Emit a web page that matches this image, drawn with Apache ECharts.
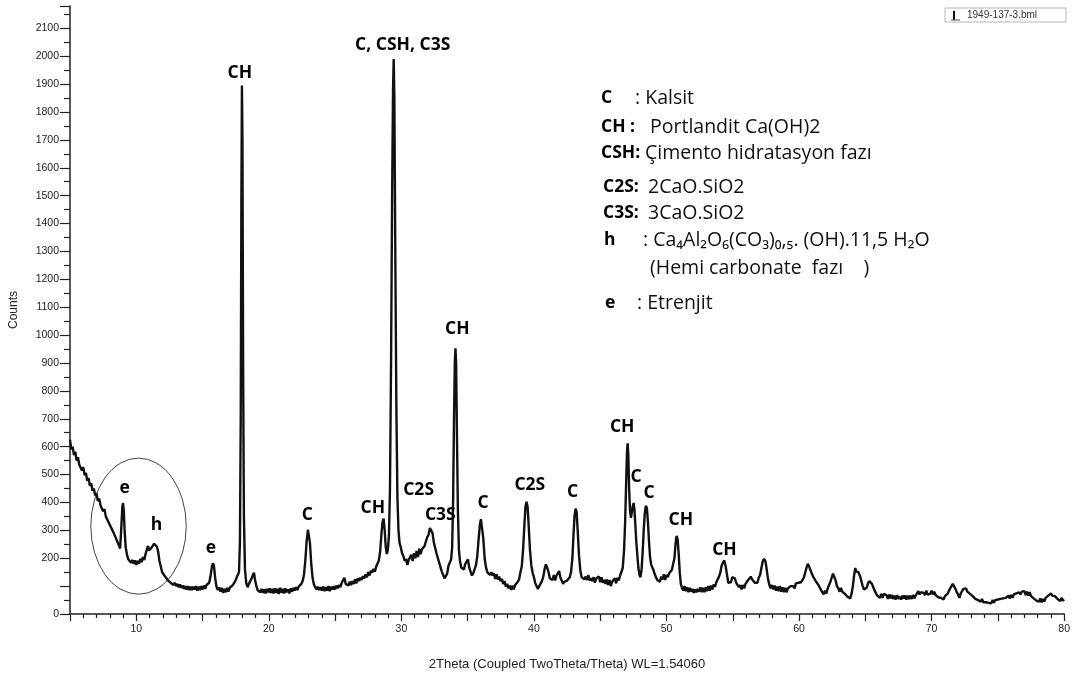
<!DOCTYPE html>
<html>
<head>
<meta charset="utf-8">
<script src="https://cdn.jsdelivr.net/npm/echarts@6/dist/echarts.min.js"></script>
<style>
html,body{margin:0;padding:0;background:#fff;}
#chart{width:1073px;height:680px;}
</style>
</head>
<body>
<div id="chart"></div>
<script>
// X-ray diffraction scan: [2Theta (deg), counts]
const scan = [
[5.0,625],[5.1,590],[5.2,600],[5.3,570],[5.4,582],[5.5,550],[5.6,562],[5.7,535],[5.8,542],[5.9,515],
[6.0,526],[6.1,498],[6.2,506],[6.3,478],[6.4,487],[6.5,460],[6.6,468],[6.7,442],[6.8,450],[6.9,425],
[7.0,433],[7.1,405],[7.2,414],[7.3,390],[7.4,396],[7.5,368],[7.6,376],[7.7,350],[7.8,357],[7.9,330],
[8.0,337],[8.1,310],[8.2,317],[8.3,290],[8.4,294],[8.5,268],[8.6,262],[8.7,245],[8.78,235],[8.86,300],
[8.95,385],[9.0,398],[9.06,370],[9.12,300],[9.2,240],[9.3,212],[9.4,196],[9.5,200],[9.6,184],[9.7,194],
[9.8,180],[9.9,192],[10.0,176],[10.1,190],[10.2,180],[10.3,198],[10.4,186],[10.5,204],[10.6,194],[10.7,215],
[10.8,222],[10.88,244],[10.96,228],[11.05,224],[11.15,238],[11.25,236],[11.35,252],[11.45,256],[11.55,242],[11.65,224],
[11.75,190],[11.85,170],[11.95,150],[12.05,152],[12.15,136],[12.3,134],[12.4,120],[12.5,126],[12.6,112],[12.7,118],
[12.8,104],[12.9,112],[13.0,100],[13.1,108],[13.2,96],[13.3,106],[13.4,94],[13.5,102],[13.6,90],[13.7,100],
[13.8,88],[13.9,100],[14.0,86],[14.1,98],[14.2,86],[14.3,98],[14.4,88],[14.5,100],[14.6,84],[14.7,98],
[14.8,86],[14.9,100],[15.0,88],[15.1,102],[15.2,90],[15.3,104],[15.4,98],[15.5,112],[15.6,135],[15.7,168],
[15.78,182],[15.86,172],[15.95,130],[16.05,98],[16.15,86],[16.25,96],[16.35,80],[16.45,94],[16.55,76],[16.65,90],
[16.75,78],[16.85,94],[16.95,80],[17.05,94],[17.15,88],[17.25,102],[17.35,100],[17.45,116],[17.55,122],[17.65,140],
[17.75,150],[17.82,260],[17.88,700],[17.93,1500],[17.97,1895],[18.01,1700],[18.06,900],[18.12,350],[18.2,160],[18.3,110],
[18.4,96],[18.5,108],[18.6,110],[18.7,128],[18.8,140],[18.88,148],[18.96,122],[19.05,102],[19.15,86],[19.25,90],
[19.35,78],[19.45,90],[19.55,76],[19.65,88],[19.75,74],[19.85,90],[19.95,78],[20.05,92],[20.15,76],[20.25,90],
[20.35,74],[20.45,92],[20.55,76],[20.65,90],[20.75,72],[20.85,94],[20.95,76],[21.05,90],[21.15,74],[21.25,92],
[21.35,78],[21.45,88],[21.55,74],[21.65,92],[21.75,80],[21.85,94],[21.95,84],[22.05,96],[22.15,86],[22.25,98],
[22.35,96],[22.45,108],[22.55,118],[22.65,140],[22.75,190],[22.85,260],[22.95,302],[23.02,298],[23.1,255],[23.2,180],
[23.3,130],[23.4,106],[23.5,100],[23.6,88],[23.7,98],[23.8,86],[23.9,96],[24.0,84],[24.1,98],[24.2,82],
[24.3,96],[24.4,84],[24.5,100],[24.6,82],[24.7,98],[24.8,88],[24.9,100],[25.0,88],[25.1,102],[25.2,92],
[25.3,104],[25.4,96],[25.5,112],[25.6,118],[25.7,130],[25.8,108],[25.9,112],[26.0,102],[26.1,116],[26.2,104],
[26.3,118],[26.4,108],[26.5,124],[26.6,110],[26.7,128],[26.8,118],[26.9,130],[27.0,122],[27.1,136],[27.2,128],
[27.3,142],[27.4,132],[27.5,150],[27.6,138],[27.7,156],[27.8,148],[27.9,162],[28.0,152],[28.1,170],[28.2,168],
[28.3,192],[28.4,225],[28.5,290],[28.58,330],[28.66,342],[28.74,300],[28.82,240],[28.9,215],[28.98,230],[29.06,280],
[29.14,450],[29.22,900],[29.3,1500],[29.37,1880],[29.42,1990],[29.47,1850],[29.54,1300],[29.62,750],[29.7,420],[29.78,300],
[29.86,255],[29.95,240],[30.05,218],[30.15,208],[30.25,190],[30.35,198],[30.45,176],[30.55,194],[30.65,196],[30.75,212],
[30.85,190],[30.95,218],[31.05,200],[31.15,226],[31.25,204],[31.35,234],[31.45,214],[31.55,232],[31.65,236],[31.75,244],
[31.85,250],[31.95,276],[32.05,284],[32.15,308],[32.25,302],[32.35,290],[32.45,256],[32.55,250],[32.65,218],[32.75,214],
[32.85,184],[32.95,180],[33.05,152],[33.15,156],[33.25,128],[33.35,136],[33.45,144],[33.55,172],[33.65,176],[33.75,196],
[33.83,240],[33.9,400],[33.97,700],[34.03,900],[34.08,953],[34.13,900],[34.19,650],[34.26,380],[34.34,230],[34.42,190],
[34.52,166],[34.62,160],[34.72,160],[34.82,180],[34.92,182],[35.02,196],[35.12,166],[35.22,162],[35.32,138],[35.42,146],
[35.52,148],[35.62,174],[35.72,205],[35.82,265],[35.92,320],[36.0,340],[36.08,335],[36.18,270],[36.28,200],[36.38,168],
[36.48,150],[36.58,156],[36.68,140],[36.78,150],[36.88,138],[36.98,146],[37.08,126],[37.18,142],[37.28,124],[37.38,134],
[37.48,118],[37.58,126],[37.68,108],[37.78,118],[37.88,98],[37.98,108],[38.08,92],[38.18,102],[38.28,86],[38.38,102],
[38.48,88],[38.58,104],[38.68,98],[38.78,116],[38.88,124],[38.98,150],[39.08,170],[39.18,230],[39.28,320],[39.36,385],
[39.44,402],[39.52,385],[39.6,320],[39.7,230],[39.8,175],[39.9,148],[40.0,132],[40.1,110],[40.2,108],[40.3,90],
[40.4,100],[40.5,98],[40.6,118],[40.7,132],[40.8,160],[40.9,178],[41.0,166],[41.1,150],[41.2,128],[41.3,126],
[41.4,122],[41.5,140],[41.6,120],[41.7,138],[41.8,136],[41.9,154],[42.0,130],[42.1,126],[42.2,108],[42.3,116],
[42.4,110],[42.5,120],[42.6,114],[42.7,132],[42.8,150],[42.9,200],[42.98,280],[43.06,350],[43.14,378],[43.22,365],
[43.3,300],[43.4,210],[43.5,155],[43.6,132],[43.7,132],[43.8,124],[43.9,134],[44.0,122],[44.1,140],[44.2,120],
[44.3,128],[44.4,118],[44.5,132],[44.6,112],[44.7,128],[44.8,122],[44.9,134],[45.0,114],[45.1,132],[45.2,112],
[45.3,122],[45.4,108],[45.5,124],[45.6,104],[45.7,122],[45.8,100],[45.9,116],[46.0,112],[46.1,128],[46.2,110],
[46.3,130],[46.4,120],[46.5,138],[46.6,136],[46.7,165],[46.8,230],[46.88,330],[46.95,460],[47.02,580],[47.07,612],
[47.12,570],[47.18,450],[47.25,370],[47.32,345],[47.38,352],[47.45,385],[47.52,398],[47.58,375],[47.65,320],[47.72,260],
[47.8,210],[47.88,165],[47.96,140],[48.04,132],[48.12,160],[48.2,220],[48.28,300],[48.36,360],[48.44,388],[48.52,380],
[48.6,330],[48.68,260],[48.76,205],[48.84,178],[48.92,168],[49.0,160],[49.1,144],[49.2,142],[49.3,122],[49.4,126],
[49.5,116],[49.6,134],[49.7,124],[49.8,142],[49.9,122],[50.0,140],[50.1,132],[50.2,146],[50.3,140],[50.4,158],
[50.5,156],[50.6,200],[50.68,250],[50.76,280],[50.84,268],[50.92,215],[51.0,150],[51.08,108],[51.16,95],[51.26,84],
[51.36,100],[51.46,82],[51.56,96],[51.66,78],[51.76,94],[51.86,80],[51.96,90],[52.06,76],[52.16,88],[52.26,78],
[52.36,90],[52.46,80],[52.56,96],[52.66,78],[52.76,94],[52.86,78],[52.96,96],[53.06,82],[53.16,100],[53.26,84],
[53.36,102],[53.46,88],[53.56,106],[53.66,98],[53.76,114],[53.86,114],[53.96,134],[54.06,148],[54.16,174],[54.26,184],
[54.36,192],[54.46,172],[54.56,142],[54.66,112],[54.76,112],[54.86,114],[54.96,132],[55.06,126],[55.16,128],[55.26,112],
[55.36,114],[55.46,96],[55.56,104],[55.66,88],[55.76,104],[55.86,92],[55.96,108],[56.06,106],[56.16,122],[56.26,118],
[56.36,134],[56.46,124],[56.56,126],[56.66,112],[56.76,118],[56.86,112],[56.96,130],[57.06,140],[57.16,165],[57.26,188],
[57.36,198],[57.46,190],[57.56,160],[57.66,125],[57.76,105],[57.86,92],[57.96,104],[58.06,88],[58.16,102],[58.26,84],
[58.36,98],[58.46,82],[58.56,100],[58.66,80],[58.76,96],[58.86,78],[58.96,94],[59.06,78],[59.16,92],[59.26,86],
[59.36,100],[59.46,94],[59.56,100],[59.66,92],[59.76,110],[59.86,104],[59.96,112],[60.06,106],[60.16,114],[60.26,116],
[60.36,130],[60.46,148],[60.56,165],[60.66,180],[60.76,170],[60.86,158],[60.96,145],[61.06,134],[61.16,134],[61.26,118],
[61.36,122],[61.46,104],[61.56,104],[61.66,86],[61.76,86],[61.86,70],[61.96,84],[62.06,74],[62.16,92],[62.26,96],
[62.36,115],[62.46,130],[62.56,145],[62.66,138],[62.76,120],[62.86,100],[62.96,92],[63.06,80],[63.16,94],[63.26,80],
[63.36,86],[63.46,72],[63.56,76],[63.66,62],[63.76,66],[63.86,56],[63.96,72],[64.06,100],[64.16,140],[64.24,165],
[64.32,152],[64.4,158],[64.48,150],[64.56,140],[64.64,130],[64.72,115],[64.8,100],[64.9,88],[65.0,88],[65.1,94],
[65.2,110],[65.3,118],[65.4,120],[65.5,108],[65.6,96],[65.7,84],[65.8,78],[65.9,66],[66.0,72],[66.1,58],
[66.2,72],[66.3,58],[66.4,72],[66.5,66],[66.6,68],[66.7,54],[66.8,70],[66.9,56],[67.0,68],[67.1,54],
[67.2,66],[67.3,52],[67.4,68],[67.5,54],[67.6,62],[67.7,52],[67.8,66],[67.9,56],[68.0,66],[68.1,52],
[68.2,66],[68.3,54],[68.4,66],[68.5,54],[68.6,68],[68.7,56],[68.8,66],[68.9,64],[69.0,82],[69.1,70],
[69.2,78],[69.3,72],[69.4,76],[69.5,68],[69.6,84],[69.7,70],[69.8,76],[69.9,72],[70.0,84],[70.1,70],
[70.2,80],[70.3,68],[70.4,72],[70.5,60],[70.6,66],[70.7,58],[70.8,64],[70.9,52],[71.0,64],[71.1,60],
[71.2,72],[71.3,78],[71.4,92],[71.5,96],[71.6,108],[71.7,104],[71.8,90],[71.9,78],[72.0,70],[72.1,58],
[72.2,74],[72.3,74],[72.4,90],[72.5,88],[72.6,92],[72.7,80],[72.8,84],[72.9,72],[73.0,76],[73.1,64],
[73.2,66],[73.3,54],[73.4,58],[73.5,50],[73.6,54],[73.7,44],[73.8,54],[73.9,42],[74.0,48],[74.1,42],
[74.2,46],[74.3,40],[74.4,46],[74.5,38],[74.6,50],[74.7,40],[74.8,50],[74.9,44],[75.0,52],[75.1,46],
[75.2,54],[75.3,48],[75.4,56],[75.5,50],[75.6,58],[75.7,52],[75.8,66],[75.9,56],[76.0,68],[76.1,58],
[76.2,70],[76.3,66],[76.4,74],[76.5,70],[76.6,78],[76.7,70],[76.8,80],[76.9,74],[77.0,82],[77.1,68],
[77.2,80],[77.3,66],[77.4,78],[77.5,64],[77.6,68],[77.7,56],[77.8,60],[77.9,48],[78.0,54],[78.1,44],
[78.2,56],[78.3,42],[78.4,54],[78.5,44],[78.6,58],[78.7,54],[78.8,66],[78.9,60],[79.0,74],[79.1,66],
[79.2,72],[79.3,64],[79.4,66],[79.5,54],[79.6,58],[79.7,46],[79.8,58],[79.9,48],[80.0,52]
];

// Phase annotation labels over peaks
const peakNames  = ['e','h','e','CH','C','CH','C, CSH, C3S','C2S','C3S','CH','C','C2S','C','CH','C','C','CH','CH'];
const peakLabelX = [9.12,11.52,15.64,17.81,22.90,27.85,30.10,31.30,32.94,34.22,36.17,39.69,42.91,46.66,47.71,48.68,51.08,54.37];
const peakLabelY = [452,319,237,1939,355,380,2039,444,355,1022,398,462,437,670,491,434,337,229];

// Axis tick settings
const xTickLabels = [10,20,30,40,50,60,70,80];
const yTickLabels = [0,200,300,400,500,600,700,800,900,1000,1100,1200,1300,1400,1500,1600,1700,1800,1900,2000,2100];

// Legend text lines (bold key, description)
const legendKeys  = ['C','CH :','CSH:','C2S:','C3S:','h','','e'];
const legendTexts = [': Kalsit','Portlandit Ca(OH)2','Çimento hidratasyon fazı','2CaO.SiO2','3CaO.SiO2',
                     ': Ca\u2084Al\u2082O\u2086(CO\u2083)\u2080,\u2085. (OH).11,5 H\u2082O','(Hemi carbonate  fazı    )',': Etrenjit'];

const chart = echarts.init(document.getElementById('chart'), null, {renderer:'canvas'});
const axisFont = 'Liberation Sans';
const labelFont = 'Open Sans';

const peakData = peakNames.map((n,i)=>({name:n, value:[peakLabelX[i], peakLabelY[i]]}));

chart.setOption({
  animation:false,
  backgroundColor:'#ffffff',
  grid:{left:67, right:5, top:6, bottom:66, containLabel:false},
  xAxis:{
    type:'value', min:5, max:80, interval:5,
    name:'2Theta (Coupled TwoTheta/Theta) WL=1.54060',
    nameLocation:'middle', nameGap:44,
    nameTextStyle:{fontFamily:axisFont, fontSize:13, color:'#222'},
    axisLine:{show:true, lineStyle:{color:'#222', width:1.5}},
    axisTick:{show:true, length:7, lineStyle:{color:'#222', width:1.2}},
    minorTick:{show:true, splitNumber:5, length:4, lineStyle:{color:'#222', width:1.2}},
    splitLine:{show:false},
    axisLabel:{fontFamily:axisFont, fontSize:10.5, color:'#222', margin:10,
      formatter:v=> xTickLabels.indexOf(v)>=0 ? String(v) : ''}
  },
  yAxis:{
    type:'value', min:0, max:2180, interval:100,
    name:'Counts', nameLocation:'middle', nameGap:50,
    nameTextStyle:{fontFamily:axisFont, fontSize:12, color:'#222'},
    axisLine:{show:true, lineStyle:{color:'#222', width:1.5}},
    axisTick:{show:true, length:10, lineStyle:{color:'#222', width:1.2}},
    minorTick:{show:true, splitNumber:2, length:6, lineStyle:{color:'#222', width:1.2}},
    splitLine:{show:false},
    axisLabel:{fontFamily:axisFont, fontSize:10.5, color:'#222', margin:11,
      formatter:v=> yTickLabels.indexOf(v)>=0 ? String(v) : ''}
  },
  series:[
    {
      type:'line', data:scan, showSymbol:false, symbol:'none',
      lineStyle:{color:'#111', width:2.4},
      z:3
    },
    {
      type:'scatter', data:peakData, symbolSize:1,
      itemStyle:{color:'#ffffff', opacity:1},
      label:{show:true, position:'inside', formatter:'{b}', opacity:1,
        textBorderWidth:0, textShadowBlur:0,
        fontFamily:labelFont, fontWeight:'bold', fontSize:17.5, color:'#000'},
      emphasis:{disabled:true},
      z:5
    }
  ]
});

// Ellipse around the low-angle e/h region, placed via the chart's own scales
const c = chart.convertToPixel({gridIndex:0}, [10.17, 315]);
const ex = chart.convertToPixel({gridIndex:0}, [10.17+3.6, 315]);
const ey = chart.convertToPixel({gridIndex:0}, [10.17, 315+244]);
const rx = Math.abs(ex[0]-c[0]);
const ry = Math.abs(c[1]-ey[1]);

const legendTop = [98,127,153,187,213,240,268,303];
const keyLeft   = [601,601,601,603,603,604,0,605];
const textLeft  = [635,650,645,648,648,643,650,637];

const g = [];
g.push({type:'circle', shape:{cx:0, cy:0, r:ry}, x:c[0], y:c[1], scaleX:rx/ry, scaleY:1,
  style:{fill:'none', stroke:'#222', lineWidth:1}, z:10});
legendKeys.forEach((k,i)=>{
  if(k){
    g.push({type:'text', x:keyLeft[i], y:legendTop[i], style:{text:k, fill:'#000',
      font:'bold 17.5px '+labelFont, textVerticalAlign:'middle', verticalAlign:'middle'}, z:10});
  }
  g.push({type:'text', x:textLeft[i], y:legendTop[i], style:{text:legendTexts[i], fill:'#111',
    font:'19.5px '+labelFont, textVerticalAlign:'middle', verticalAlign:'middle'}, z:10});
});
// file tag box at top right
g.push({type:'rect', shape:{x:945, y:8, width:121, height:14}, style:{fill:'#fff', stroke:'#b8b8b8', lineWidth:1}, z:10});
g.push({type:'rect', shape:{x:953, y:11, width:2, height:9}, style:{fill:'#111'}, z:11});
g.push({type:'line', shape:{x1:951, y1:20, x2:960, y2:20}, style:{stroke:'#555', lineWidth:1}, z:11});
g.push({type:'text', x:967, y:15, style:{text:'1949-137-3.bml', fill:'#333', font:'10px '+axisFont,
  textVerticalAlign:'middle', verticalAlign:'middle'}, z:11});

chart.setOption({graphic:{elements:g}});
</script>
</body>
</html>
